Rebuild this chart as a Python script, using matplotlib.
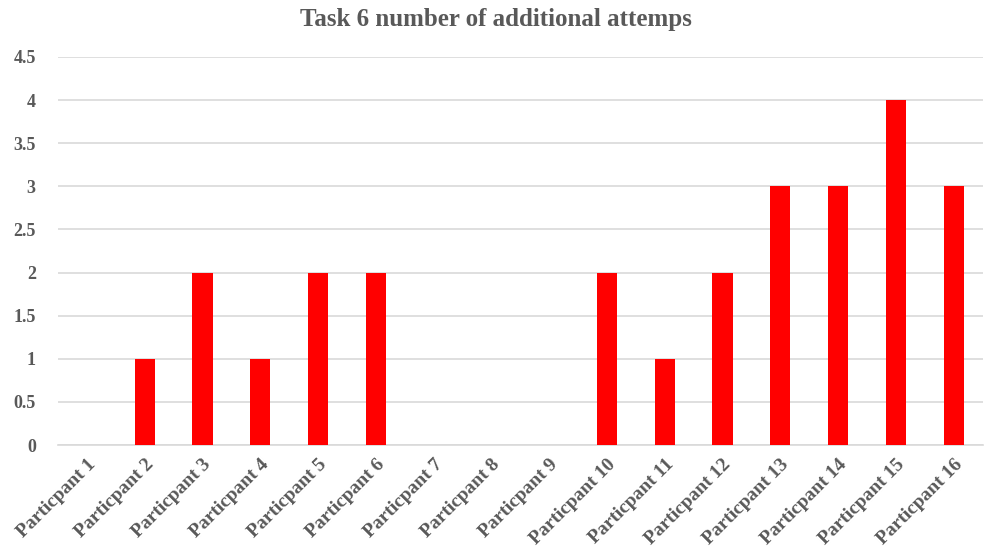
import matplotlib
matplotlib.use("Agg")
import matplotlib.pyplot as plt
import numpy as np

participants = [f"Particpant {i}" for i in range(1, 17)]
attempts = [0, 1, 2, 1, 2, 2, 0, 0, 0, 2, 1, 2, 3, 3, 4, 3]
y_ticks = [0, 0.5, 1, 1.5, 2, 2.5, 3, 3.5, 4, 4.5]
y_tick_labels = ["0", "0.5", "1", "1.5", "2", "2.5", "3", "3.5", "4", "4.5"]

plt.rcParams["font.family"] = ["Liberation Serif", "DejaVu Serif"]
plt.rcParams["font.weight"] = "bold"

text_color = "#595959"
grid_color = "#d9d9d9"

fig = plt.figure(figsize=(9.92, 5.58), dpi=100)
ax = fig.add_axes([0.0585, 0.2025, 0.932, 0.6955])

x = np.arange(len(participants))
ax.bar(x, attempts, width=0.35, color="#ff0000", zorder=3)

ax.set_xlim(-0.5, len(participants) - 0.5)
ax.set_ylim(0, 4.5)
ax.set_yticks(y_ticks)
ax.set_yticklabels(y_tick_labels)
ax.set_xticks(x)
ax.set_xticklabels(participants, rotation=45, ha="right", va="top",
                   rotation_mode="anchor")

ax.grid(axis="y", color=grid_color, linewidth=1.2, zorder=0)
for side in ["top", "right", "left"]:
    ax.spines[side].set_visible(False)
ax.spines["bottom"].set_color(grid_color)
ax.spines["bottom"].set_linewidth(1.2)

ax.tick_params(axis="both", length=0, colors=text_color)
ax.tick_params(axis="y", pad=16, labelsize=13)
ax.tick_params(axis="x", pad=8, labelsize=14)
for lbl in ax.get_xticklabels() + ax.get_yticklabels():
    lbl.set_fontweight("bold")

fig.text(0.5, 0.965, "Task 6 number of additional attemps", ha="center",
         va="center", fontsize=18, fontweight="bold", color=text_color)

fig.savefig("out.png", dpi=100)
